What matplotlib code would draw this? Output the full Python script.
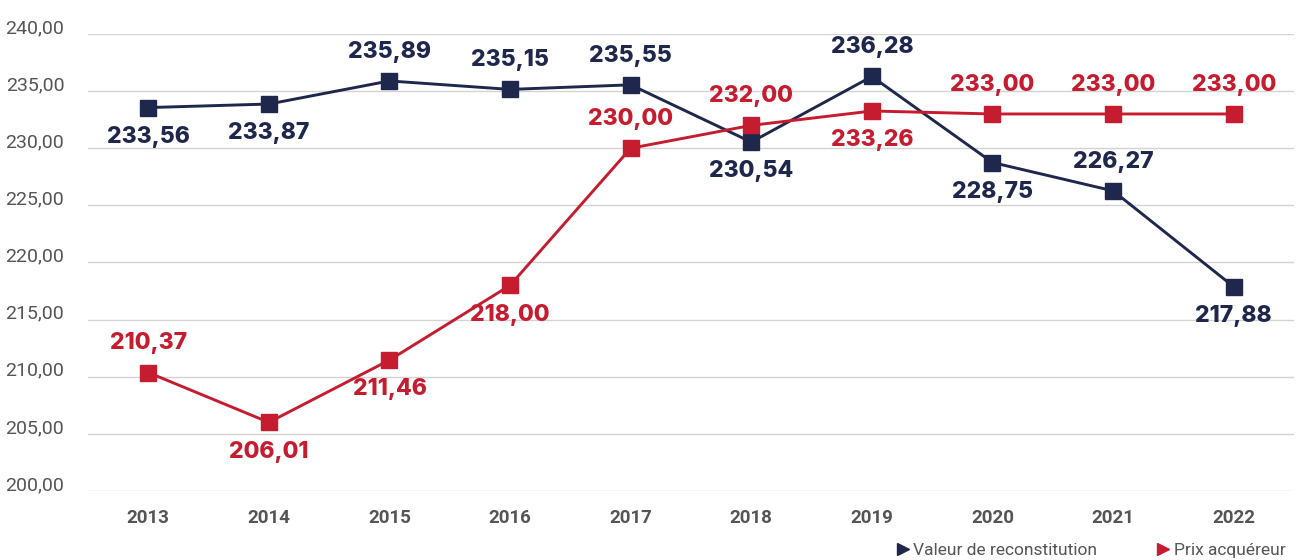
import matplotlib.pyplot as plt
import matplotlib.transforms as mtransforms
from matplotlib.lines import Line2D
from matplotlib.ticker import FuncFormatter

years = ["2013", "2014", "2015", "2016", "2017", "2018", "2019", "2020", "2021", "2022"]
valeur = [233.56, 233.87, 235.89, 235.15, 235.55, 230.54, 236.28, 228.75, 226.27, 217.88]
prix = [210.37, 206.01, 211.46, 218.00, 230.00, 232.00, 233.26, 233.00, 233.00, 233.00]
# label side: +1 above, -1 below
valeur_side = [-1, -1, 1, 1, 1, -1, 1, -1, 1, -1]
prix_side = [1, -1, -1, -1, 1, 1, -1, 1, 1, 1]

navy = "#1f274d"
red = "#c61c2f"
grey = "#555555"

plt.rcParams['font.family'] = ['Inter', 'DejaVu Sans']

fig = plt.figure(figsize=(12.97, 5.6), dpi=100)
ax = fig.add_axes([0.0678, 0.1232, 0.9299, 0.8161])

x = list(range(len(years)))
ax.plot(x, valeur, color=navy, lw=2.1, marker="s", ms=12, zorder=3)
ax.plot(x, prix, color=red, lw=2.1, marker="s", ms=12, zorder=4)

def fmt(v):
    return f"{v:.2f}".replace(".", ",")

for xi, v, s in zip(x, valeur, valeur_side):
    ax.annotate(fmt(v), (xi, v), xytext=(0, 21 * s), textcoords="offset points",
                ha="center", va="center", fontsize=16.5, fontweight=800, color=navy)
for xi, v, s in zip(x, prix, prix_side):
    ax.annotate(fmt(v), (xi, v), xytext=(0, 21 * s), textcoords="offset points",
                ha="center", va="center", fontsize=16.5, fontweight=800, color=red)

ax.set_xlim(-0.5, len(years) - 0.5)
ax.set_ylim(200, 240)
ax.set_yticks(range(200, 241, 5))
ax.yaxis.set_major_formatter(FuncFormatter(lambda v, p: fmt(v)))
ax.set_xticks(x)
ax.set_xticklabels(years, fontweight="bold", family=["Roboto", "DejaVu Sans"])
ax.tick_params(axis="y", length=0, pad=17, labelsize=14, labelcolor=grey)
ax.tick_params(axis="x", length=0, pad=13, labelsize=13.5, labelcolor=grey)
for lab in ax.get_yticklabels():
    lab.set_family(["Roboto", "DejaVu Sans"])
    lab.set_transform(lab.get_transform() + mtransforms.ScaledTranslation(0, 8 / 100, fig.dpi_scale_trans))
ax.grid(axis="y", color="#d3d3d3", lw=1)
ax.set_axisbelow(True)
for sp in ax.spines.values():
    sp.set_visible(False)

handles = [Line2D([], [], color=navy, marker=">", ls="none", ms=8),
           Line2D([], [], color=red, marker=">", ls="none", ms=8)]
leg = fig.legend(handles, ["Valeur de reconstitution", "Prix acquéreur"], loc="lower right",
                 bbox_to_anchor=(1.003, -0.025), ncol=2, frameon=False,
                 prop={"family": ["Roboto", "DejaVu Sans"], "size": 12.5},
                 labelcolor=grey, handletextpad=0.0, columnspacing=3.2, handlelength=1.2)

fig.savefig("out.png", dpi=100)
